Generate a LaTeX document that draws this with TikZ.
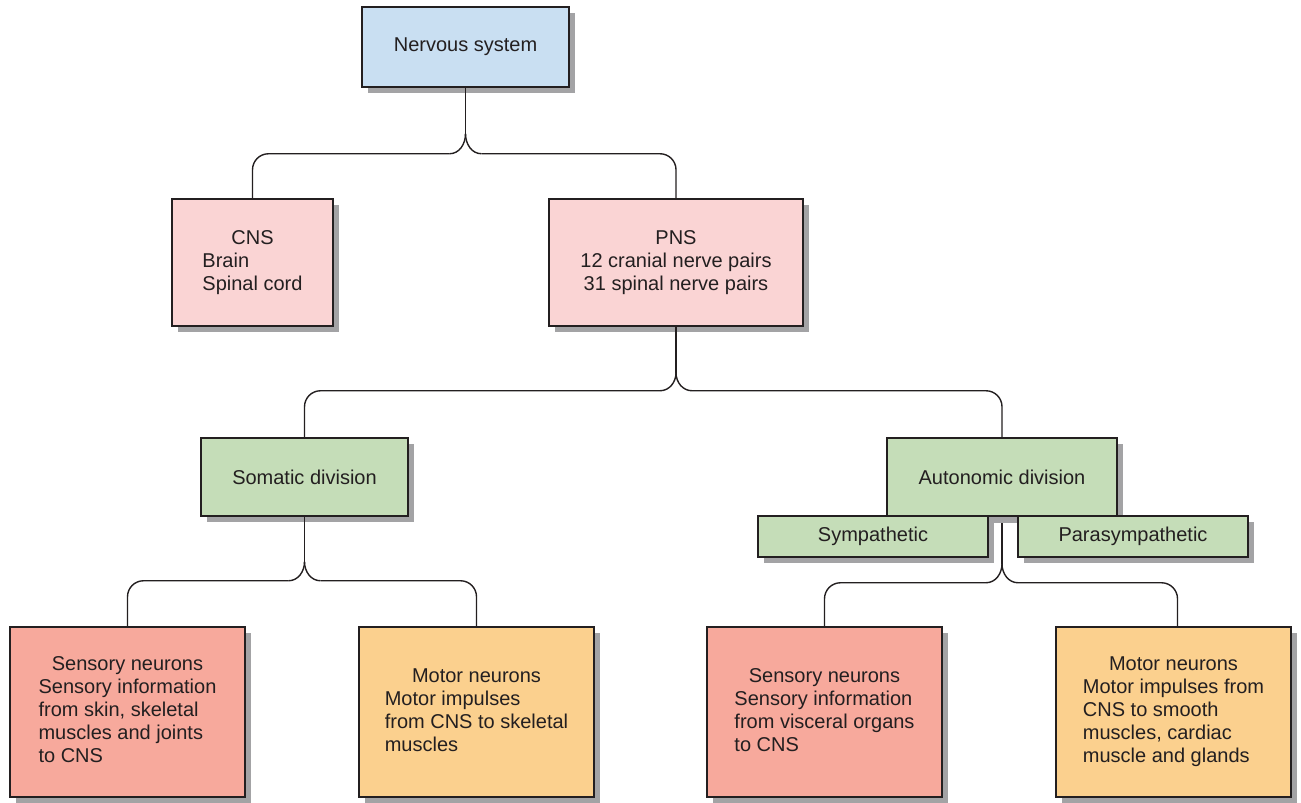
\documentclass[tikz,border=0pt]{standalone}
\usepackage{fontspec}
\setmainfont{Liberation Sans}
\usetikzlibrary{shadows}
\definecolor{cblue}{HTML}{C9DFF2}
\definecolor{cpink}{HTML}{FAD4D4}
\definecolor{cgreen}{HTML}{C5DDB8}
\definecolor{csalmon}{HTML}{F7A99C}
\definecolor{corange}{HTML}{FBD08E}
\definecolor{cshadow}{HTML}{A3A3A5}
\definecolor{cline}{HTML}{231F20}
\tikzset{
  box/.style={draw=cline, line width=1.5pt, inner sep=0pt, align=center,
    text=cline, font=\fontsize{20}{23}\selectfont,
    drop shadow={shadow xshift=6pt, shadow yshift=-6pt, fill=cshadow, opacity=1}},
  conn/.style={draw=cline, line width=1.4pt},
  arm/.style={draw=cline, line width=1.4pt, rounded corners=16pt}
}
\begin{document}
\begin{tikzpicture}[x=1pt,y=-1pt]
\useasboundingbox (0,0) rectangle (1301,803);

\node[box, fill=cblue, minimum width=207, minimum height=80] (ns) at (465.5,47) {Nervous system};
\node[box, fill=cpink, minimum width=161, minimum height=127] (cns) at (252.5,262.5)
  {\begin{tabular}{@{}l@{}}\multicolumn{1}{@{}c@{}}{CNS}\\ Brain\\ Spinal cord\end{tabular}};
\node[box, fill=cpink, minimum width=254, minimum height=127] (pns) at (676,262.5)
  {PNS\\12 cranial nerve pairs\\31 spinal nerve pairs};

\node[box, fill=cgreen, minimum width=207, minimum height=78] (som) at (304.5,477) {Somatic division};

\node[box, fill=csalmon, minimum width=235, minimum height=170] (sl) at (127.5,712)
  {\begin{tabular}{@{}l@{}}\multicolumn{1}{@{}c@{}}{Sensory neurons\hspace{12pt}}\\ Sensory information\\ from skin, skeletal\\ muscles and joints\\ to CNS\end{tabular}};
\node[box, fill=corange, minimum width=235, minimum height=170] (ml) at (476.5,712)
  {\begin{tabular}{@{}l@{}}\multicolumn{1}{@{}c@{}}{Motor neurons}\\ Motor impulses\\ from CNS to skeletal\\ muscles\end{tabular}};
\node[box, fill=csalmon, minimum width=235, minimum height=170] (sr) at (824.5,712)
  {\begin{tabular}{@{}l@{}}\multicolumn{1}{@{}c@{}}{Sensory neurons}\\ Sensory information\\ from visceral organs\\ to CNS\end{tabular}};
\node[box, fill=corange, minimum width=235, minimum height=170] (mr) at (1173.5,712)
  {\begin{tabular}{@{}l@{}}\multicolumn{1}{@{}c@{}}{Motor neurons}\\ Motor impulses from\\ CNS to smooth\\ muscles, cardiac\\ muscle and glands\end{tabular}};

% connectors: Nervous system -> CNS / PNS
\draw[conn] (ns.south) -- ++(0,46) coordinate (t1);
\draw[conn] (t1) to[out=-90,in=0] ++(-16,20) coordinate (l1);
\draw[conn] (t1) to[out=-90,in=180] ++(16,20) coordinate (r1);
\draw[arm] (l1) -| (cns.north);
\draw[arm] (r1) -| (pns.north);

% PNS -> Somatic / Autonomic
\draw[conn] (pns.south) -- ++(0,46) coordinate (t2);
\draw[conn] (t2) to[out=-90,in=0] ++(-16,18) coordinate (l2);
\draw[conn] (t2) to[out=-90,in=180] ++(16,18) coordinate (r2);
\draw[arm] (l2) -| (som.north);

% Somatic -> neurons
\draw[conn] (som.south) -- ++(0,45) coordinate (t3);
\draw[conn] (t3) to[out=-90,in=0] ++(-16,19) coordinate (l3);
\draw[conn] (t3) to[out=-90,in=180] ++(16,19) coordinate (r3);
\draw[arm] (l3) -| (sl.north);
\draw[arm] (r3) -| (ml.north);

\node[box, fill=cgreen, minimum width=230, minimum height=78] (aut) at (1002,477) {Autonomic division};
\draw[arm] (r2) -| (aut.north);

% Autonomic -> neurons (drawn before the sub-boxes)
\begin{scope}
\draw[conn] (aut.south) -- ++(0,47) coordinate (t4);
\draw[conn] (t4) to[out=-90,in=0] ++(-16,19) coordinate (l4);
\draw[conn] (t4) to[out=-90,in=180] ++(16,19) coordinate (r4);
\draw[arm] (l4) -| (sr.north);
\draw[arm] (r4) -| ([xshift=4pt]mr.north);
\end{scope}
% shadow strip of autonomic box over the top of the line
\fill[cshadow] ([xshift=6pt]aut.south west) rectangle ([xshift=6pt,yshift=-6pt]aut.south east);

\node[box, fill=cgreen, minimum width=230, minimum height=41] (sym) at (873,536.5) {Sympathetic};
\node[box, fill=cgreen, minimum width=230, minimum height=41] (para) at (1133,536.5) {Parasympathetic};
\end{tikzpicture}
\end{document}
